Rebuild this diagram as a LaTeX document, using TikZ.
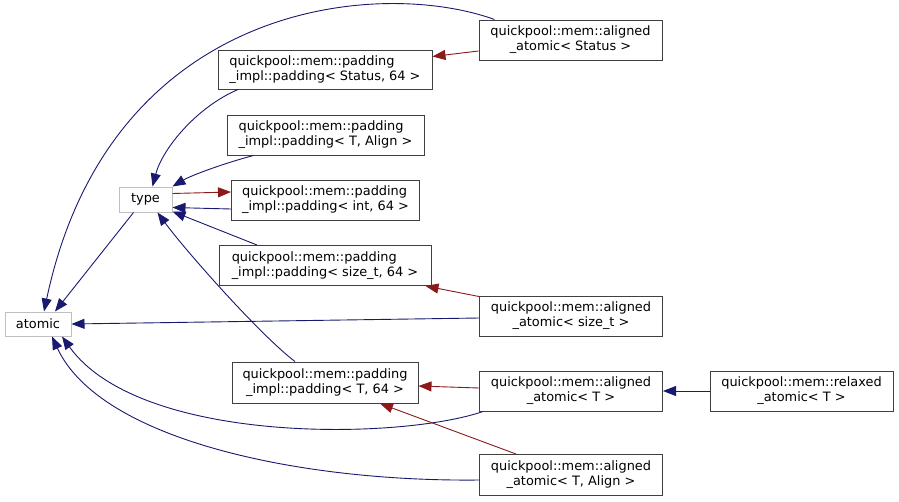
\documentclass[tikz,border=0pt]{standalone}
\usepackage{fontspec}
\setmainfont{DejaVu Sans}
\usetikzlibrary{arrows.meta}
\definecolor{dxNavy}{RGB}{ 25, 25,112}
\definecolor{dxRed} {RGB}{139, 26, 26}
\definecolor{dxGrey}{RGB}{191,191,191}
\definecolor{dxInk} {RGB}{ 64, 64, 64}

\begin{document}
\begin{tikzpicture}[x=1pt,y=-1pt,
  classbox/.style={draw=dxInk,line width=1pt,inner sep=0pt,minimum height=40pt,
                   font=\fontsize{12.9}{15}\selectfont},
  extbox/.style={draw=dxGrey,line width=1pt,inner sep=0pt,
                 font=\fontsize{12.9}{15}\selectfont},
  pubedge/.style={dxNavy,line width=0.9pt,-{Triangle[length=13pt,width=10pt]}},
  tmpledge/.style={dxRed,line width=0.9pt,-{Triangle[length=13pt,width=10pt]}}]
\useasboundingbox[fill=white] (0,0) rectangle (899,501);
% External (grey) classes
\node[extbox,minimum width=66pt,minimum height=24pt] (atomic) at (38,324) {atomic};
\node[extbox,minimum width=53pt,minimum height=25pt] (type) at (145.5,199.5) {type};
% padding_impl::padding instances
\node[classbox,align=left,minimum width=214pt,minimum height=39pt] (pStatus) at (325,69.5)
  {quickpool::mem::padding\\\_impl::padding< Status, 64 >};
\node[classbox,align=left,minimum width=197pt] (pTAlign) at (325.5,135)
  {quickpool::mem::padding\\\_impl::padding< T, Align >};
\node[classbox,align=left,minimum width=188pt] (pInt) at (325.5,200)
  {quickpool::mem::padding\\\_impl::padding< int, 64 >};
\node[classbox,align=left,minimum width=212pt] (pSize) at (325,265.5)
  {quickpool::mem::padding\\\_impl::padding< size\_t, 64 >};
\node[classbox,align=center,minimum width=186pt,minimum height=41pt] (pT64) at (325,382.5)
  {quickpool::mem::padding\\\_impl::padding< T, 64 >};
% aligned_atomic / relaxed_atomic
\node[classbox,align=center,minimum width=183pt] (aStatus) at (570.5,40)
  {quickpool::mem::aligned\\\_atomic< Status >};
\node[classbox,align=center,minimum width=183pt] (aSize) at (571,316)
  {quickpool::mem::aligned\\\_atomic< size\_t >};
\node[classbox,align=center,minimum width=183pt] (aT) at (571,391)
  {quickpool::mem::aligned\\\_atomic< T >};
\node[classbox,align=center,minimum width=183pt,minimum height=41pt] (aTAlign) at (571,475)
  {quickpool::mem::aligned\\\_atomic< T, Align >};
\node[classbox,align=center,minimum width=183pt] (rT) at (801.5,391)
  {quickpool::mem::relaxed\\\_atomic< T >};
% Public inheritance (navy)
\draw[pubedge] ([xshift=-76pt]aStatus.north) .. controls (380,-22) and (110,0) .. ([xshift=6pt]atomic.north);
\draw[pubedge] ([xshift=-87pt]pStatus.south) .. controls (195,108) and (162,150) .. ([xshift=7pt]type.north);
\draw[pubedge] ([xshift=-72pt]pTAlign.south) .. controls (225,163) and (192,175) .. (type.north east);
\draw[pubedge] ([yshift=-9pt]pInt.west) -- ([yshift=-8pt]type.east);
\draw[pubedge] ([xshift=-68pt]pSize.north) -- ([yshift=1pt]type.south east);
\draw[pubedge] ([xshift=-30pt]pT64.north) .. controls (260,335) and (185,250) .. ([xshift=12pt]type.south);
\draw[pubedge] ([xshift=-12pt]type.south) -- ([xshift=17pt]atomic.north);
\draw[pubedge] ([yshift=-2pt]aSize.west) -- (atomic.east);
\draw[pubedge] ([xshift=-88pt]aT.south) .. controls (400,440) and (140,445) .. ([xshift=24pt]atomic.south);
\draw[pubedge] ([yshift=-5pt]aTAlign.west) .. controls (300,482) and (100,440) .. ([xshift=14pt]atomic.south);
\draw[pubedge] (rT.west) -- (aT.east);
% Template instances (red)
\draw[tmpledge] ([yshift=6pt]type.east) -- ([yshift=8pt]pInt.west);
\draw[tmpledge] ([yshift=-11pt]aStatus.west) -- ([yshift=13pt]pStatus.east);
\draw[tmpledge] ([yshift=-1pt]aSize.north west) -- ([xshift=-6pt]pSize.south east);
\draw[tmpledge] ([yshift=3pt]aT.west) -- ([yshift=-3.5pt]pT64.east);
\draw[tmpledge] ([xshift=-55pt]aTAlign.north) -- ([xshift=55pt]pT64.south);
\end{tikzpicture}
\end{document}
